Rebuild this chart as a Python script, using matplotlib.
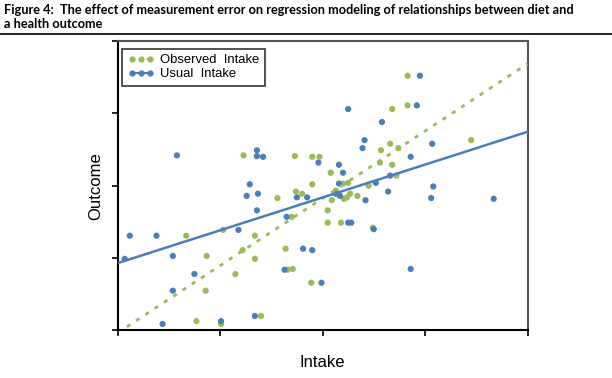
import numpy as np
import matplotlib
matplotlib.use('Agg')
import matplotlib.pyplot as plt
from matplotlib.lines import Line2D

# Observed intake (green) : x = intake, y = outcome
obs_x = [0.67, 0.77, 1.01, 0.87, 0.86, 1.15, 1.22, 1.34, 1.34, 1.40, 1.03, 1.56,
         1.70, 1.64, 1.66, 1.71, 1.74, 1.80, 1.89, 1.90, 1.23, 1.73, 1.90, 1.97,
         2.83, 2.83, 2.68, 3.45, 2.66, 2.57, 2.74, 2.08, 2.56, 2.68, 2.20, 2.25,
         2.45, 2.72, 2.13, 2.09, 2.21, 2.24, 2.27, 2.34, 2.05, 2.05, 2.18, 2.49]
obs_y = [1.31, 0.13, 0.09, 1.03, 0.55, 0.78, 1.11, 1.31, 0.99, 0.20, 1.39, 1.83,
         1.57, 1.13, 0.84, 0.85, 1.92, 1.89, 0.66, 2.02, 2.42, 2.41, 2.40, 2.40,
         3.52, 3.11, 3.06, 2.63, 2.58, 2.49, 2.52, 2.18, 2.32, 2.29, 2.03, 2.04,
         2.00, 2.14, 1.93, 1.80, 1.82, 1.84, 1.89, 1.86, 1.66, 1.49, 1.49, 1.42]

# Usual intake (blue)
usual_x = [0.58, 1.36, 1.36, 1.42, 1.29, 1.96, 0.12, 0.38, 0.07, 0.54, 0.75, 0.54,
           0.44, 1.01, 1.26, 1.37, 1.36, 1.18, 1.65, 1.63, 1.34, 1.75, 1.85, 1.81,
           1.90, 2.17, 2.13, 2.42, 2.64, 3.08, 3.06, 3.67, 2.25, 2.28, 2.50, 2.86,
           1.99, 2.95, 2.92, 2.25, 2.58, 2.41, 2.39, 3.07, 2.86, 2.16, 2.20, 2.16,
           2.52, 2.66]
usual_y = [2.42, 2.49, 2.41, 2.40, 2.02, 2.32, 1.31, 1.31, 0.99, 1.03, 0.78, 0.55,
           0.09, 0.13, 1.86, 1.89, 1.66, 1.39, 1.57, 0.84, 0.20, 1.84, 1.84, 1.13,
           1.11, 1.86, 1.89, 1.80, 1.92, 1.99, 1.83, 1.82, 1.49, 1.49, 1.40, 0.85,
           0.66, 3.52, 3.11, 3.06, 2.88, 2.63, 2.52, 2.58, 2.40, 2.29, 2.18, 2.03,
           2.04, 2.14]

# trendlines (slope, intercept)
obs_fit = (0.93, -0.034)
usual_fit = (0.454, 0.93)

green = '#9BBB59'
blue = '#4A7EBB'

fig = plt.figure(figsize=(6.12, 3.78), dpi=100)
ax = fig.add_axes([0.192, 0.1257, 0.670, 0.7658])

ax.scatter(obs_x, obs_y, s=20, color=green, edgecolors='none', zorder=3)
ax.scatter(usual_x, usual_y, s=20, color=blue, edgecolors='none', zorder=4)

xs = np.array([0, 4])
ax.plot(xs, obs_fit[0] * xs + obs_fit[1], color=green, lw=2, ls=(0, (1.5, 2.5)), zorder=5)
ax.plot(xs, usual_fit[0] * xs + usual_fit[1], color=blue, lw=1.8, zorder=5)

ax.set_xlim(0, 4)
ax.set_ylim(0, 4)
ax.set_xticks([0, 1, 2, 3, 4])
ax.set_yticks([0, 1, 2, 3, 4])
ax.tick_params(direction='out', length=4, width=1.2, labelbottom=False, labelleft=False)
for s in ['left', 'bottom']:
    ax.spines[s].set_linewidth(1.5)
    ax.spines[s].set_color('black')
for s in ['top', 'right']:
    ax.spines[s].set_linewidth(1.5)
    ax.spines[s].set_color('#555555')

ax.set_xlabel('Intake', fontsize=12, family='Liberation Sans', labelpad=14)
ax.set_ylabel('Outcome', fontsize=12, family='Liberation Sans', labelpad=6)

handles = [Line2D([], [], color=green, ls=(0, (1.5, 2)), lw=1.5, marker='o', ms=3.5),
           Line2D([], [], color=blue, lw=1.5, marker='o', ms=3.5)]
leg = ax.legend(handles, ['Observed  Intake', 'Usual  Intake'], loc='upper left',
                bbox_to_anchor=(-0.004, 0.995), numpoints=3, handlelength=2.0,
                handletextpad=0.5, borderpad=0.4, labelspacing=0.15,
                fancybox=False, prop={'family': 'Liberation Sans', 'size': 9.4})
leg.get_frame().set_edgecolor('black')
leg.get_frame().set_linewidth(1.2)

fig.text(0.007, 0.963, 'Figure 4:  The effect of measurement error on regression modeling of relationships between diet and',
         fontsize=9.2, fontweight='bold', family='Lato', va='baseline')
fig.text(0.007, 0.925, 'a health outcome', fontsize=9.2, fontweight='bold', family='Lato', va='baseline')
fig.add_artist(Line2D([0, 1], [0.909, 0.909], color='black', lw=1.2))

fig.savefig('out.png', dpi=100)
